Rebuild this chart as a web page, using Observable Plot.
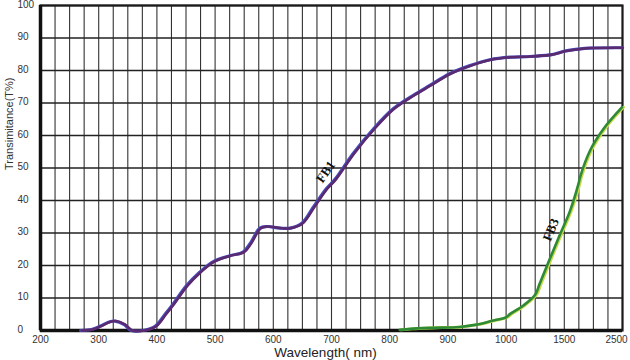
<!DOCTYPE html>
<html>
<head>
<meta charset="utf-8">
<script src="https://cdn.jsdelivr.net/npm/d3@7"></script>
<script src="https://cdn.jsdelivr.net/npm/@observablehq/plot@0.6"></script>
<style>
  html, body { margin: 0; padding: 0; background: #ffffff; }
  svg { font-family: "Liberation Sans", Arial, sans-serif; }
</style>
</head>
<body>
<div id="chart"></div>
<script>
// FB1 transmittance curve (wavelength nm, T%)
const fb1Wavelength = [270, 290, 303, 320, 329, 345, 357, 377, 398, 415, 429, 452, 475, 498, 526, 549, 561, 578, 590, 612, 630, 650, 670, 692, 707, 738, 773, 807, 841, 870, 904, 939, 973, 1038, 1210, 1381, 1413, 1523, 1758, 1950, 2500];
const fb1Transmittance = [0, 0.4, 1.3, 2.7, 2.9, 1.8, 0, 0, 1.3, 5, 8.2, 13.8, 18, 21.2, 23, 24.1, 26.7, 31.5, 32, 31.5, 31.5, 33, 38, 43.6, 46.5, 54.4, 62, 68.2, 72.3, 75.4, 79, 81.5, 83.3, 84.1, 84.3, 84.8, 85.0, 86.0, 86.6, 86.9, 87];

// FB3 transmittance curve
const fb3Wavelength = [818, 836, 870, 921, 950, 979, 1000, 1038, 1152, 1253, 1290, 1381, 1467, 1607, 1750, 1778, 1950, 2179, 2500];
const fb3Transmittance = [0.2, 0.5, 0.8, 1.1, 1.8, 3.1, 4, 5.1, 7.7, 11.0, 14.2, 22.2, 29.6, 36.9, 45.1, 47.2, 55.4, 62, 68.7];

// Axis ticks and grid
const xTickLabels = [200, 300, 400, 500, 600, 700, 800, 900, 1000, 1500];
const xLastTick = [2500];
const xBreaks = [200, 1000, 1500, 2500];
const xGridLinear = d3.range(200, 1000, 25);
const xGridMid = [1000, 1125, 1250, 1375];
const xGridHigh = [1500, 1750, 2000, 2250, 2500];
const yTicks = [0, 10, 20, 30, 40, 50, 60, 70, 80, 90, 100];

// Curve labels
const curveLabels = ["FB1", "FB3"];
const curveLabelX = [690, 1385];
const curveLabelY = [48.8, 31.0];
const curveLabelAngle = [-55, -68];

const fb1 = fb1Wavelength.map((w, i) => ({w, t: fb1Transmittance[i]}));
const fb3 = fb3Wavelength.map((w, i) => ({w, t: fb3Transmittance[i]}));
const labels = curveLabels.map((s, i) => ({s, w: curveLabelX[i], t: curveLabelY[i], a: curveLabelAngle[i]}));
const xGrid = [...xGridLinear, ...xGridMid, ...xGridHigh];

const chart = Plot.plot({
  width: 630,
  height: 360,
  marginLeft: 40,
  marginRight: 8,
  marginTop: 5,
  marginBottom: 30,
  style: {background: "#ffffff", fontFamily: "Liberation Sans, Arial, sans-serif"},
  x: {type: "linear", domain: xBreaks, range: [40, 505.6, 563.8, 622]},
  y: {domain: [0, 100]},
  marks: [
    Plot.ruleX(xGrid, {stroke: "#333", strokeWidth: 1.1}),
    Plot.ruleY(yTicks, {stroke: "#222", strokeWidth: 1.4}),
    Plot.frame({stroke: "#1a1a1a", strokeWidth: 2.2}),
    Plot.ruleY([0], {stroke: "#111", strokeWidth: 3.5}),
    Plot.ruleX([200], {stroke: "#111", strokeWidth: 3.5}),
    Plot.axisX({ticks: xTickLabels, tickSize: 0, tickPadding: 5, fontSize: 10, label: null, tickFormat: d => String(d), color: "#333"}),
    Plot.axisX({ticks: xLastTick, tickSize: 0, tickPadding: 5, fontSize: 10, label: null, tickFormat: d => String(d), color: "#333", dx: -6}),
    Plot.axisY({ticks: yTicks, tickSize: 0, tickPadding: 23, textAnchor: "start", fontSize: 10, label: null, color: "#333", dy: -1}),
    Plot.line(fb1, {x: "w", y: "t", curve: "catmull-rom", stroke: "#4a4fc0", strokeWidth: 3.2, dx: -0.6}),
    Plot.line(fb1, {x: "w", y: "t", curve: "catmull-rom", stroke: "#5a2a70", strokeWidth: 2.6, dx: 0.4}),
    Plot.line(fb3, {x: "w", y: "t", curve: "catmull-rom", stroke: "#c9d84a", strokeWidth: 3, dx: 0.9}),
    Plot.line(fb3, {x: "w", y: "t", curve: "catmull-rom", stroke: "#2e8a35", strokeWidth: 2.6, dx: -0.4}),
    Plot.text(labels, {x: "w", y: "t", text: "s", rotate: "a", fontFamily: "Liberation Serif, DejaVu Serif, serif", fontWeight: "bold", fontSize: 13, fill: "#111"}),
    Plot.text(["Wavelength( nm)"], {frameAnchor: "bottom", dy: 22, dx: -6, fontSize: 13.5, fill: "#222", lineAnchor: "middle"}),
    Plot.text(["Transimitance(T%)"], {frameAnchor: "left", dx: -31, dy: 2, rotate: -90, fontSize: 11, fill: "#333", lineAnchor: "middle"})
  ]
});
document.getElementById("chart").appendChild(chart);
</script>
</body>
</html>
